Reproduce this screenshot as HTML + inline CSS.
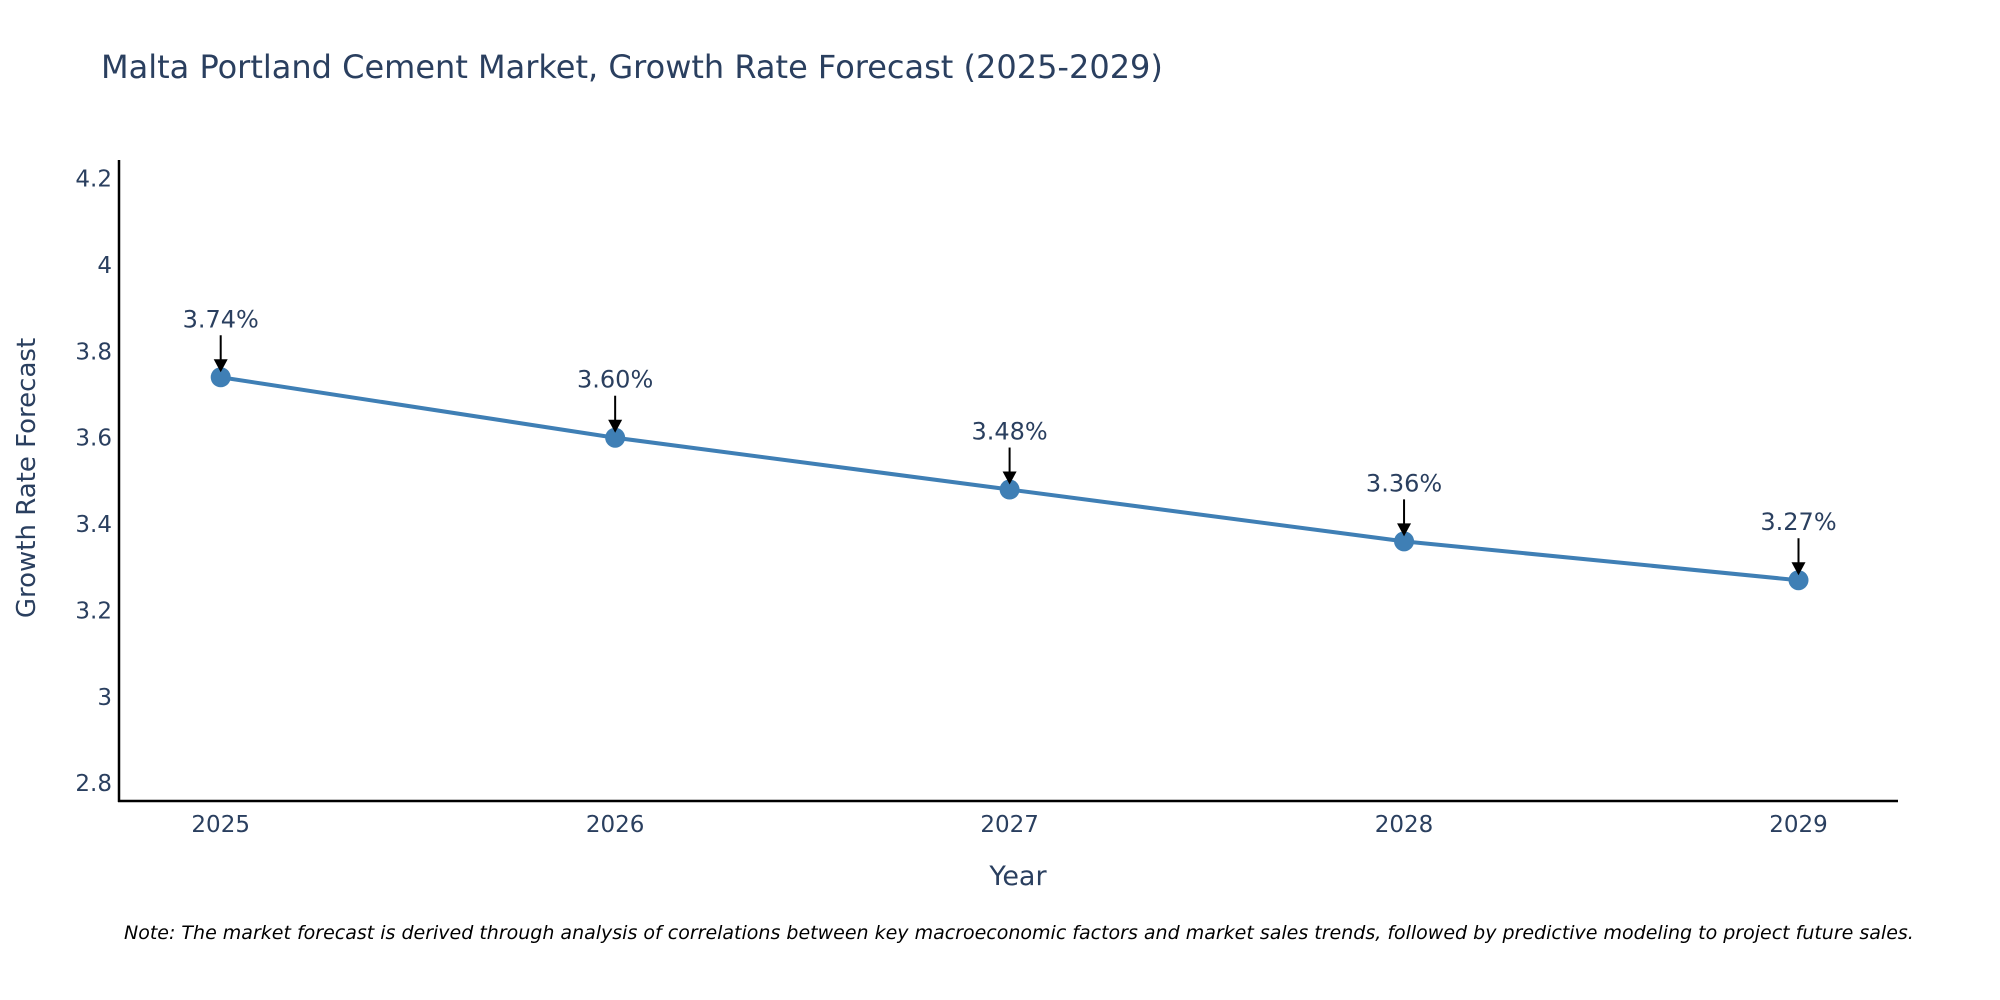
<!DOCTYPE html>
<html><head><meta charset="utf-8"><style>
html,body{margin:0;padding:0;background:#fff;width:2000px;height:1000px;overflow:hidden;font-family:"DejaVu Sans","Liberation Sans",sans-serif;}
svg text{font-family:"DejaVu Sans","Liberation Sans",sans-serif;}
</style></head><body>
<svg id="chart" width="2000" height="1000" xmlns="http://www.w3.org/2000/svg">
<text x="101" y="78" font-size="32" fill="#2a3f5f">Malta Portland Cement Market, Growth Rate Forecast (2025-2029)</text>
<g id="yticks"></g>
<g id="xticks"></g>
<line x1="119" y1="160" x2="119" y2="802" stroke="#000" stroke-width="2.5"/>
<line x1="118" y1="801" x2="1898" y2="801" stroke="#000" stroke-width="2.5"/>
<g id="series"></g>
<g id="annots"></g>
<text x="1018" y="885" font-size="27" fill="#2a3f5f" text-anchor="middle">Year</text>
<text x="35" y="478" font-size="26" fill="#2a3f5f" text-anchor="middle" transform="rotate(-90 35 478)">Growth Rate Forecast</text>
<text x="124" y="939" font-size="19" font-style="italic" fill="#000">Note: The market forecast is derived through analysis of correlations between key macroeconomic factors and market sales trends, followed by predictive modeling to project future sales.</text>
</svg>
<script>
const years = ["2025","2026","2027","2028","2029"];
const growthValues = [3.74, 3.60, 3.48, 3.36, 3.27];
const valueLabels = ["3.74%","3.60%","3.48%","3.36%","3.27%"];
const yTickValues = [2.8, 3, 3.2, 3.4, 3.6, 3.8, 4, 4.2];
const yTickLabels = ["2.8","3","3.2","3.4","3.6","3.8","4","4.2"];

const NS = "http://www.w3.org/2000/svg";
function xPos(i){ return 220.7 + i*(1798.5-220.7)/(years.length-1); }
function yPos(v){ return 783.2 - (v-2.8)*(783.2-178.6)/1.4; }
function mk(tag, attrs, parent){ const e=document.createElementNS(NS,tag); for(const k in attrs) e.setAttribute(k,attrs[k]); parent.appendChild(e); return e; }

const yt=document.getElementById('yticks');
yTickValues.forEach((v,i)=>{
  const t=mk('text',{x:112,y:yPos(v)+8,'font-size':23,fill:'#2a3f5f','text-anchor':'end'},yt);
  
  
  t.textContent=yTickLabels[i];
});
const xt=document.getElementById('xticks');
years.forEach((y,i)=>{
  const t=mk('text',{x:xPos(i),y:832,'font-size':23,fill:'#2a3f5f','text-anchor':'middle'},xt);
  
  
  t.textContent=y;
});
const s=document.getElementById('series');
const pts=growthValues.map((v,i)=>xPos(i)+','+yPos(v)).join(' ');
const pl=mk('polyline',{points:pts,fill:'none',stroke:'#3f7fb5','stroke-width':4},s);


growthValues.forEach((v,i)=>{
  const c=mk('circle',{cx:xPos(i),cy:yPos(v),r:10,fill:'#3f7fb5'},s);
  
  
});
const a=document.getElementById('annots');
growthValues.forEach((v,i)=>{
  const x=xPos(i), y=yPos(v);
  const l=mk('line',{x1:x,y1:y-42,x2:x,y2:y-16,stroke:'#000','stroke-width':2},a);
  
  
  const p=mk('polygon',{points:`${x-7},${y-18} ${x+7},${y-18} ${x},${y-5}`,fill:'#000'},a);
  
  
  const t=mk('text',{x:x,y:y-50,'font-size':24,fill:'#2a3f5f','text-anchor':'middle'},a);
  
  
  t.textContent=valueLabels[i];
});
</script>
</body></html>
